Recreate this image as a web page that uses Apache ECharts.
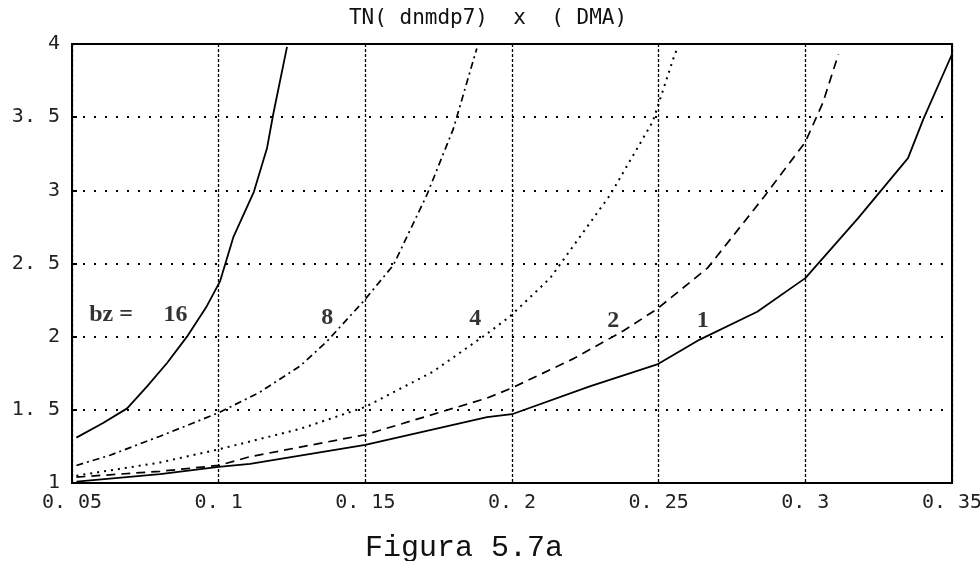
<!DOCTYPE html>
<html><head><meta charset="utf-8">
<script src="https://cdn.jsdelivr.net/npm/echarts@6/dist/echarts.min.js"></script>
<style>html,body{margin:0;padding:0;background:#fff}#c{width:980px;height:561px}</style>
</head><body><div id="c"></div>
<script>
const titleText = "TN( dnmdp7)  x  ( DMA)";
const captionText = "Figura 5.7a";
const xTickLabels = ["0. 05", "0. 1", "0. 15", "0. 2", "0. 25", "0. 3", "0. 35"];
const yTickLabels = ["1", "1. 5", "2", "2. 5", "3", "3. 5", "4"];

const bz16 = [[0.0515,1.31],[0.0606,1.41],[0.0688,1.51],[0.0756,1.66],[0.0824,1.82],[0.0892,2.0],[0.096,2.21],[0.1005,2.38],[0.105,2.68],[0.112,2.99],[0.1165,3.29],[0.1186,3.52],[0.1233,3.98]];
const bz8 = [[0.0515,1.12],[0.063,1.19],[0.08,1.32],[0.0913,1.41],[0.1,1.48],[0.114,1.62],[0.1278,1.80],[0.137,1.97],[0.1493,2.24],[0.1596,2.49],[0.171,2.97],[0.18,3.42],[0.188,3.97]];
const bz4 = [[0.0515,1.05],[0.08,1.14],[0.1,1.23],[0.1278,1.37],[0.15,1.52],[0.173,1.76],[0.1915,2.02],[0.1994,2.14],[0.213,2.40],[0.2335,2.97],[0.248,3.47],[0.255,3.90],[0.2565,3.98]];
const bz2 = [[0.0515,1.04],[0.08,1.08],[0.1,1.12],[0.1107,1.18],[0.15,1.33],[0.1915,1.58],[0.2,1.65],[0.221,1.85],[0.238,2.04],[0.2495,2.19],[0.2667,2.47],[0.2857,2.95],[0.3,3.33],[0.306,3.6],[0.3113,3.93]];
const bz1 = [[0.0515,1.01],[0.08,1.06],[0.1,1.11],[0.1107,1.13],[0.15,1.26],[0.1915,1.45],[0.2,1.47],[0.2265,1.66],[0.2495,1.81],[0.264,1.98],[0.2836,2.17],[0.3,2.40],[0.318,2.81],[0.335,3.22],[0.3403,3.49],[0.35,3.93]];
const curveLabels = [
  {name:"bz =", x:0.0633, y:2.15},
  {name:"16", x:0.0853, y:2.15},
  {name:"8", x:0.137, y:2.13},
  {name:"4", x:0.1875, y:2.12},
  {name:"2", x:0.2345, y:2.11},
  {name:"1", x:0.265, y:2.11}
];

const chart = echarts.init(document.getElementById('c'), null, {renderer:'canvas'});
const lineBase = {type:'line', symbol:'none', smooth:false, silent:true};
const dotFont = '"DejaVu Sans Mono", monospace';
chart.setOption({
  animation:false,
  backgroundColor:'#fff',
  title:[
    {text:titleText, left:483, top:3, textAlign:'center', textStyle:{fontFamily:'"DejaVu Sans Mono", monospace', fontWeight:'normal', fontSize:21, color:'#111'}},
    {text:captionText, left:459, top:528, textAlign:'center', textStyle:{fontFamily:'"Liberation Mono", monospace', fontWeight:'normal', fontSize:30, color:'#111'}}
  ],
  grid:{left:72, right:28, top:44, bottom:78, show:true, borderColor:'#000', borderWidth:2, outerBoundsMode:'none', containLabel:false},
  xAxis:{type:'value', min:0.05, max:0.35, interval:0.05,
    axisLine:{show:false}, axisTick:{show:false},
    axisLabel:{margin:10, fontFamily:dotFont, fontSize:20, color:'#222',
      formatter:v=>xTickLabels[Math.round((v-0.05)/0.05)]},
    splitLine:{show:true, lineStyle:{color:'#000', width:1.3, type:[3,2]}}},
  yAxis:{type:'value', min:1, max:4, interval:0.5,
    axisLine:{show:false}, axisTick:{show:true, length:5, inside:true, lineStyle:{color:'#000', width:2}},
    axisLabel:{margin:12, fontFamily:dotFont, fontSize:20, color:'#222',
      formatter:v=>yTickLabels[Math.round((v-1)/0.5)]},
    splitLine:{show:true, lineStyle:{color:'#000', width:2, type:[2,9]}}},
  series:[
    Object.assign({}, lineBase, {name:'16', data:bz16, lineStyle:{color:'#000', width:1.8, type:'solid'}}),
    Object.assign({}, lineBase, {name:'8', data:bz8, lineStyle:{color:'#000', width:1.7, type:[7,4,2,4]}}),
    Object.assign({}, lineBase, {name:'4', data:bz4, lineStyle:{color:'#000', width:2, type:[2,5]}}),
    Object.assign({}, lineBase, {name:'2', data:bz2, lineStyle:{color:'#000', width:1.7, type:[9,6]}}),
    Object.assign({}, lineBase, {name:'1', data:bz1, lineStyle:{color:'#000', width:1.8, type:'solid'}}),
    {type:'scatter', symbolSize:0, silent:true,
      data:curveLabels.map(d=>({value:[d.x,d.y], name:d.name})),
      label:{show:true, position:'inside', formatter:p=>p.name,
        fontFamily:'"Liberation Serif", serif', fontWeight:'bold', fontSize:24, color:'#000'}}
  ]
});
</script></body></html>
